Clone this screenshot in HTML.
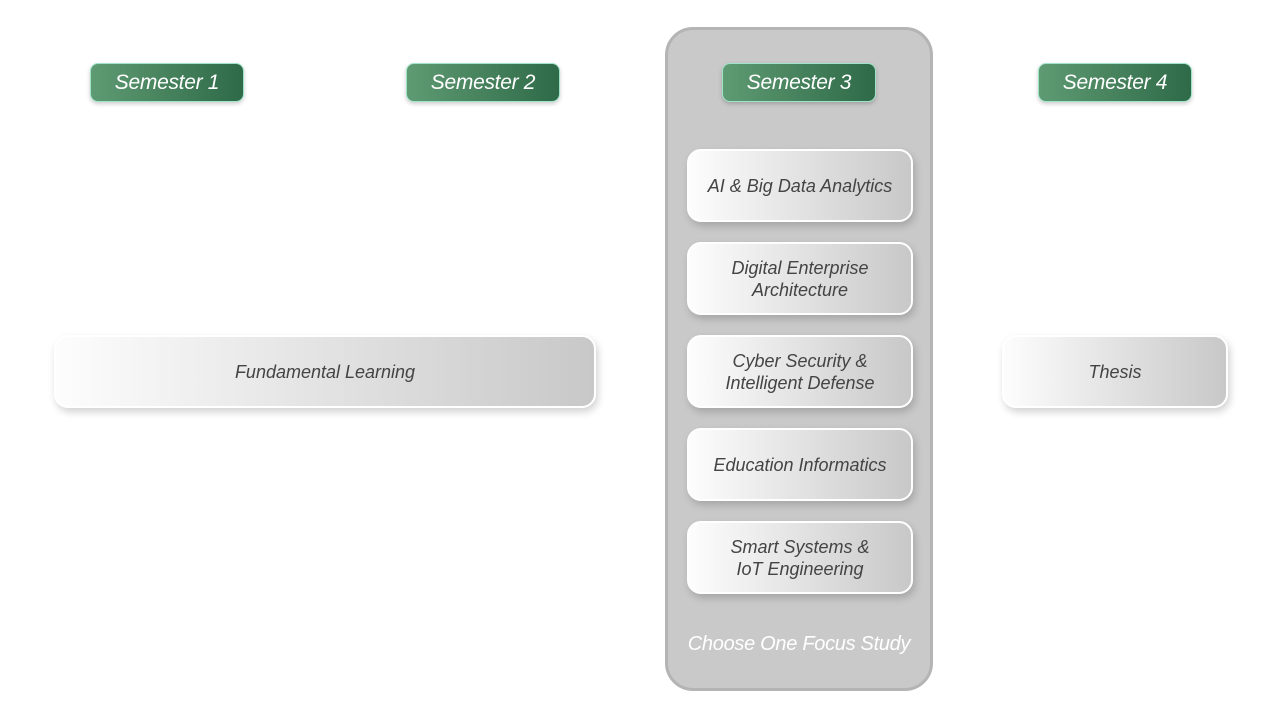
<!DOCTYPE html>
<html><head><style>
body{margin:0;width:1280px;height:719px;background:#fff;position:relative;overflow:hidden;font-family:"Liberation Sans",sans-serif;}
.pill{position:absolute;top:63px;width:152px;height:37px;border:1px solid #9fe3c8;border-radius:8px;background:linear-gradient(90deg,#5e9a72,#2f6a48);color:#fff;font-style:italic;font-size:21px;display:flex;align-items:center;justify-content:center;letter-spacing:-0.3px;box-shadow:0 2px 4px rgba(0,0,0,.2);}
.col{position:absolute;left:665px;top:27px;width:262px;height:658px;border:3px solid #b4b4b4;border-radius:28px;background:#c9c9c9;}
.card{position:absolute;border:2px solid #fff;border-radius:14px;background:linear-gradient(90deg,#fdfdfd,#c8c8c8);color:#444;font-style:italic;font-size:18px;display:flex;align-items:center;justify-content:center;text-align:center;line-height:22px;box-shadow:2px 4px 8px rgba(0,0,0,.18);box-sizing:border-box;}
.c3{left:687px;width:226px;height:73px;}
</style></head><body>
<div class="col"></div>
<div class="pill" style="left:90px">Semester 1</div>
<div class="pill" style="left:406px">Semester 2</div>
<div class="pill" style="left:722px">Semester 3</div>
<div class="pill" style="left:1038px">Semester 4</div>
<div class="card c3" style="top:149px">AI &amp; Big Data Analytics</div>
<div class="card c3" style="top:242px">Digital Enterprise<br>Architecture</div>
<div class="card c3" style="top:335px">Cyber Security &amp;<br>Intelligent Defense</div>
<div class="card c3" style="top:428px">Education Informatics</div>
<div class="card c3" style="top:521px">Smart Systems &amp;<br>IoT Engineering</div>
<div style="position:absolute;left:665px;width:268px;top:633px;text-align:center;color:#fff;font-style:italic;font-size:20px;letter-spacing:-0.3px">Choose One Focus Study</div>
<div class="card" style="left:54px;top:335px;width:542px;height:73px;border-color:#fff;">Fundamental Learning</div>
<div class="card" style="left:1002px;top:335px;width:226px;height:73px;">Thesis</div>
</body></html>
